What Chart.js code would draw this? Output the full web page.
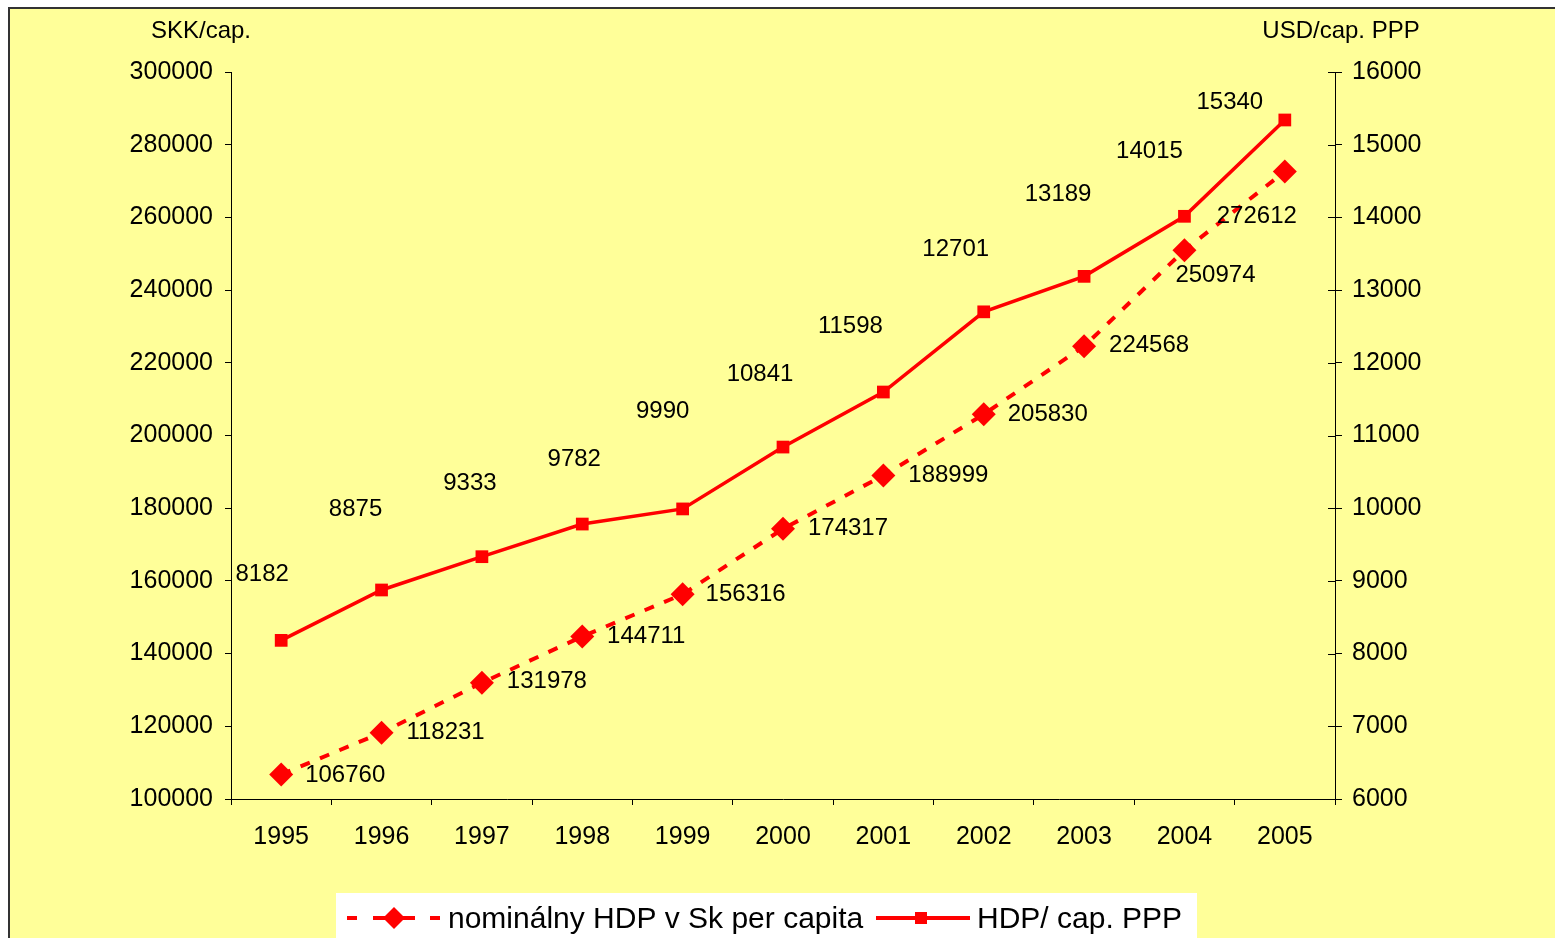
<!DOCTYPE html>
<html><head><meta charset="utf-8">
<script src="https://cdn.jsdelivr.net/npm/chart.js@4/dist/chart.umd.min.js"></script>
<style>html,body{margin:0;padding:0;background:#fff;overflow:hidden}canvas{display:block}</style>
</head><body>
<canvas id="c" width="1555" height="938"></canvas>
<script>
// ---- data ----
const years = ['1995','1996','1997','1998','1999','2000','2001','2002','2003','2004','2005'];
const nominalSkk = [106760,118231,131978,144711,156316,174317,188999,205830,224568,250974,272612];
const pppUsd = [8182,8875,9333,9782,9990,10841,11598,12701,13189,14015,15340];
const seriesNames = ['nominálny HDP v Sk per capita','HDP/ cap. PPP'];
const axisTitles = ['SKK/cap.','USD/cap. PPP'];
const leftAxisRange = {min:100000, max:300000, step:20000};
const rightAxisRange = {min:6000, max:16000, step:1000};

// ---- label placement (pixel offsets from each point) ----
const nominalLabelOffsets = [[64,1],[64,0],[65,-1],[64,0],[63,0],[65,0],[65,0],[64,0],[65,-1],[31,25],[-28,45]];
const pppLabelOffsets = [[-19,-66],[-26,-81],[-12,-73],[-8,-65],[-20,-98],[-23,-73],[-33,-66],[-28,-62],[-26,-82],[-35,-65],[-55,-18]];

const FONT = '"Liberation Sans", Arial, sans-serif';
const RED = '#FF0000';

const framePlugin = {
  id:'frame',
  beforeDraw(chart){
    const ctx = chart.ctx;
    ctx.save();
    ctx.fillStyle = '#fff';
    ctx.fillRect(0,0,chart.width,chart.height);
    ctx.fillStyle = '#FFFF99';
    ctx.fillRect(9,8,chart.width-9,chart.height-8);
    ctx.strokeStyle = '#333';
    ctx.lineWidth = 2;
    ctx.beginPath();
    ctx.moveTo(9,chart.height); ctx.lineTo(9,8); ctx.lineTo(chart.width,8);
    ctx.stroke();
    ctx.restore();
  },
  afterDraw(chart){
    const ctx = chart.ctx;
    const yR = chart.scales.y1;
    ctx.save();
    // inner part of right-axis ticks
    ctx.strokeStyle = '#000'; ctx.lineWidth = 1;
    yR.ticks.forEach((t,i)=>{
      const y = Math.round(yR.getPixelForValue(t.value))+0.5;
      ctx.beginPath(); ctx.moveTo(yR.left-7,y); ctx.lineTo(yR.left,y); ctx.stroke();
    });
    // axis titles
    ctx.fillStyle = '#000';
    ctx.font = '24px ' + FONT;
    ctx.textAlign = 'center'; ctx.textBaseline = 'middle';
    ctx.fillText(axisTitles[0], 201, 31);
    ctx.fillText(axisTitles[1], 1341, 31);
    // legend
    ctx.fillStyle = '#fff';
    ctx.fillRect(336, 893, 861, 50);
    const ly = 918;
    ctx.strokeStyle = RED; ctx.fillStyle = RED; ctx.lineWidth = 4;
    [[347,357],[373,415],[430,440]].forEach(s=>{ctx.beginPath();ctx.moveTo(s[0],ly);ctx.lineTo(s[1],ly);ctx.stroke();});
    ctx.beginPath(); ctx.moveTo(394-11,ly); ctx.lineTo(394,ly-11); ctx.lineTo(394+11,ly); ctx.lineTo(394,ly+11); ctx.closePath(); ctx.fill();
    ctx.beginPath(); ctx.moveTo(876,ly); ctx.lineTo(970,ly); ctx.stroke();
    ctx.fillRect(921-6, ly-6, 12, 12);
    ctx.fillStyle = '#000';
    ctx.font = '30px ' + FONT;
    ctx.textAlign = 'left'; ctx.textBaseline = 'middle';
    ctx.fillText(seriesNames[0], 448, ly+2);
    ctx.fillText(seriesNames[1], 977, ly+2);
    ctx.restore();
  },
  afterDatasetsDraw(chart){
    const ctx = chart.ctx;
    ctx.save();
    ctx.fillStyle = '#000';
    ctx.font = '24px ' + FONT;
    ctx.textAlign = 'center'; ctx.textBaseline = 'middle';
    const offs = [nominalLabelOffsets, pppLabelOffsets];
    chart.data.datasets.forEach((ds,di)=>{
      const meta = chart.getDatasetMeta(di);
      meta.data.forEach((pt,i)=>{
        const o = offs[di][i];
        ctx.fillText(String(ds.data[i]), pt.x + o[0], pt.y + o[1]);
      });
    });
    ctx.restore();
  }
};

const plain = v => String(v);

new Chart(document.getElementById('c'), {
  type:'line',
  data:{
    labels: years,
    datasets:[
      {label: seriesNames[0], data: nominalSkk, yAxisID:'y', borderColor:RED, backgroundColor:RED,
       borderWidth:4, borderDash:[10,11], pointStyle:'rectRot', pointRadius:12, pointHoverRadius:12,
       pointBorderWidth:0, tension:0, fill:false},
      {label: seriesNames[1], data: pppUsd, yAxisID:'y1', borderColor:RED, backgroundColor:RED,
       borderWidth:3.5, pointStyle:'rect', pointRadius:9, pointHoverRadius:9,
       pointBorderWidth:0, tension:0, fill:false}
    ]
  },
  options:{
    responsive:false, animation:false, devicePixelRatio:1,
    layout:{padding:{top:72,left:0,right:0,bottom:0}},
    plugins:{legend:{display:false}, tooltip:{enabled:false}},
    scales:{
      x:{
        offset:true,
        grid:{offset:true, drawOnChartArea:false, drawTicks:true, tickLength:6, color:'#000'},
        border:{display:true, color:'#000', width:1},
        ticks:{color:'#000', font:{family:FONT, size:25}, padding:17, maxRotation:0, autoSkip:false},
        afterFit(s){ s.height = 139; }
      },
      y:{
        position:'left', min:leftAxisRange.min, max:leftAxisRange.max,
        grid:{drawOnChartArea:false, drawTicks:true, tickLength:6, color:'#000'},
        border:{display:true, color:'#000', width:1},
        ticks:{stepSize:leftAxisRange.step, color:'#000', font:{family:FONT, size:25}, padding:12, callback:plain},
        afterFit(s){ s.width = 231; }
      },
      y1:{
        position:'right', min:rightAxisRange.min, max:rightAxisRange.max,
        grid:{drawOnChartArea:false, drawTicks:true, tickLength:7, color:'#000'},
        border:{display:true, color:'#000', width:1},
        ticks:{stepSize:rightAxisRange.step, color:'#000', font:{family:FONT, size:25}, padding:10, callback:plain},
        afterFit(s){ s.width = 220; }
      }
    }
  },
  plugins:[framePlugin]
});
</script>
</body></html>
